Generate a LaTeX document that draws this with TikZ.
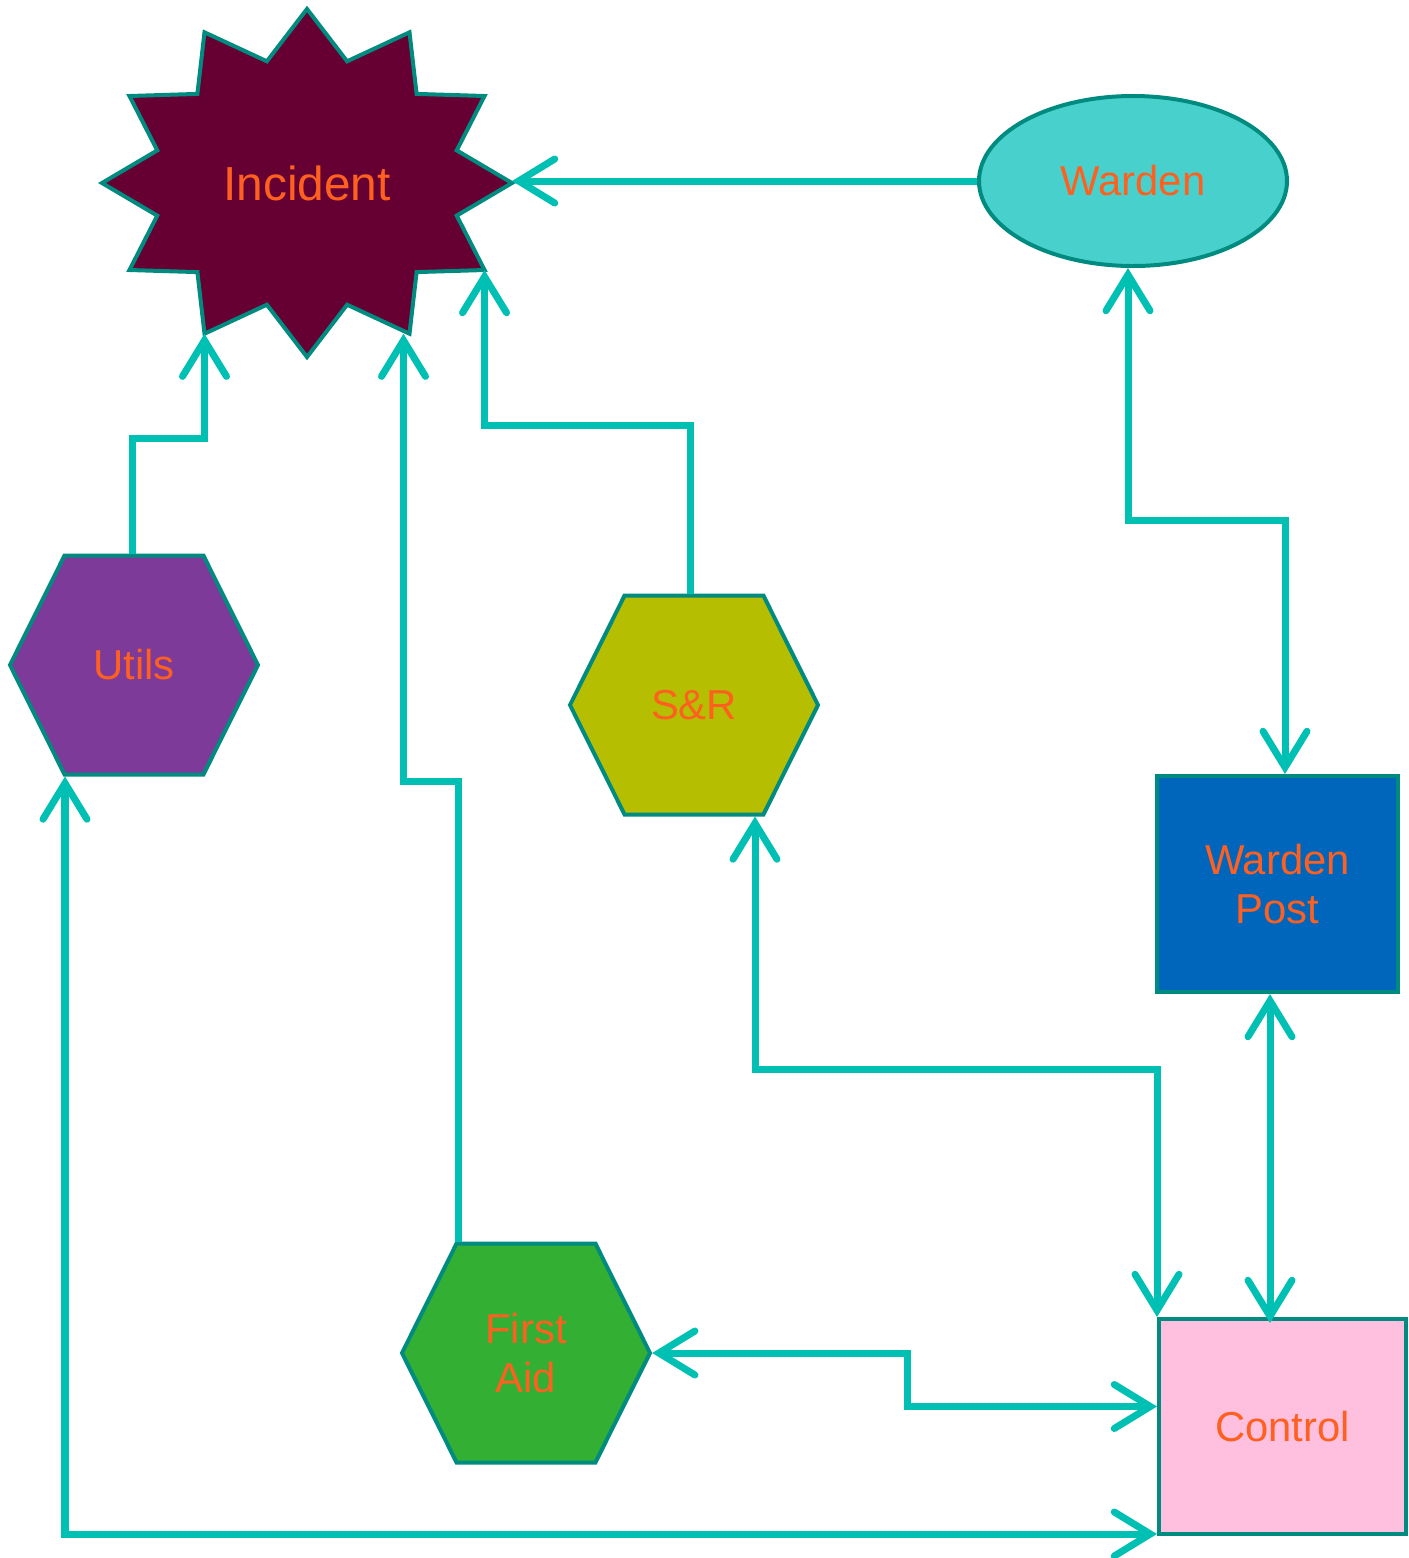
\documentclass[tikz,border=0pt]{standalone}
\usepackage{fontspec}
\setmainfont{Liberation Sans}
\usetikzlibrary{shapes.geometric,shapes.symbols,arrows.meta,calc}

\definecolor{edgeteal}{RGB}{0,139,128}
\definecolor{linkteal}{RGB}{0,192,180}
\definecolor{labelorange}{RGB}{255,96,32}
\definecolor{incfill}{RGB}{102,0,51}
\definecolor{wardenfill}{RGB}{72,209,204}
\definecolor{utilsfill}{RGB}{125,58,152}
\definecolor{srfill}{RGB}{181,190,0}
\definecolor{aidfill}{RGB}{51,175,51}
\definecolor{postfill}{RGB}{0,102,187}
\definecolor{controlfill}{RGB}{255,192,224}

\begin{document}
\begin{tikzpicture}[
        every node/.style       = {text=labelorange, font=\fontsize{11.9}{14.2}\selectfont, align=center},
        box/.style              = {draw=edgeteal, line width=0.04cm, inner sep=0pt},
        hexa/.style             = {box, signal, signal to=east and west, signal pointer angle=127, minimum width=2.48cm, minimum height=2.19cm},
        block/.style            = {box, rectangle},
        burst/.style            = {draw=edgeteal, fill=incfill, line width=0.04cm, line join=miter},
        link/.style             = {draw=linkteal, line width=0.07cm, line join=miter},
        tip/.style              = {-{Straight Barb[length=3.6mm, width=4.4mm, line cap=round]}},
        twotips/.style          = {{Straight Barb[length=3.6mm, width=4.4mm, line cap=round]}-{Straight Barb[length=3.6mm, width=4.4mm, line cap=round]}},
        % rounded corners      = 2pt,
      ]
        \useasboundingbox (0,0) rectangle (14.09,-15.58);

        % incident star
        \begin{scope}[shift={(3.07,-1.83)}]
            \draw[burst] (0:2.05 and 1.74) coordinate (incp0)
                \foreach \i in {1,...,11} {
                    -- ({\i*30-15}:1.55 and 1.26) -- ({\i*30}:2.05 and 1.74) coordinate (incp\i)
                }
                -- (345:1.55 and 1.26) -- cycle;
        \end{scope}
        \node (inc) at (3.07,-1.83) {\fontsize{13.6}{16}\selectfont Incident};

        \node[box, ellipse, fill=wardenfill, minimum width=3.08cm, minimum height=1.70cm] (wd) at (11.33,-1.81) {Warden};
        \node[hexa, fill=utilsfill] (ut) at (1.34,-6.65) {Utils};
        \node[hexa, fill=srfill] (sr) at (6.94,-7.05) {S\&R};
        \node[hexa, fill=aidfill] (fa) at (5.26,-13.53) {First\\Aid};
        \node[block, fill=postfill, minimum width=2.41cm, minimum height=2.16cm] (wp) at (12.775,-8.84) {Warden\\Post};
        \node[block, fill=controlfill, minimum width=2.47cm, minimum height=2.15cm] (ct) at (12.825,-14.265) {Control};

        % links to the incident
        \draw[link, tip] (wd.west) -- (wd.west -| incp0);
        \draw[link, tip] ([xshift=-0.2mm]ut.north) -- ++(0,1.15) -| (incp8);
        \draw[link, tip] ([xshift=-0.4mm]sr.north) -- ++(0,1.68) -| (incp11);
        \draw[link, tip] ([xshift=-6.8mm]fa.north) -- ++(0,4.60) -| ([xshift=-0.6mm]incp10);

        % two way links
        \draw[link, twotips] ([xshift=-0.5mm]wd.south) -- ++(0,-2.52) -| ([xshift=0.75mm]wp.north);
        \draw[link, twotips] ([xshift=-0.75mm]wp.south) -- ([xshift=-0.75mm, yshift=-0.6mm]wp.south |- ct.north);
        \draw[link, twotips] ([xshift=6.1mm]sr.south) -- ++(0,-2.53) -| (ct.north west);
        \draw[link, twotips] ([xshift=-6.9mm]ut.south) |- ([yshift=0.2mm]ct.south west);
        \draw[link, twotips] (fa.east) -- ++(2.55,0) |- ([yshift=0.2cm]ct.west);
    \end{tikzpicture}
\end{document}
